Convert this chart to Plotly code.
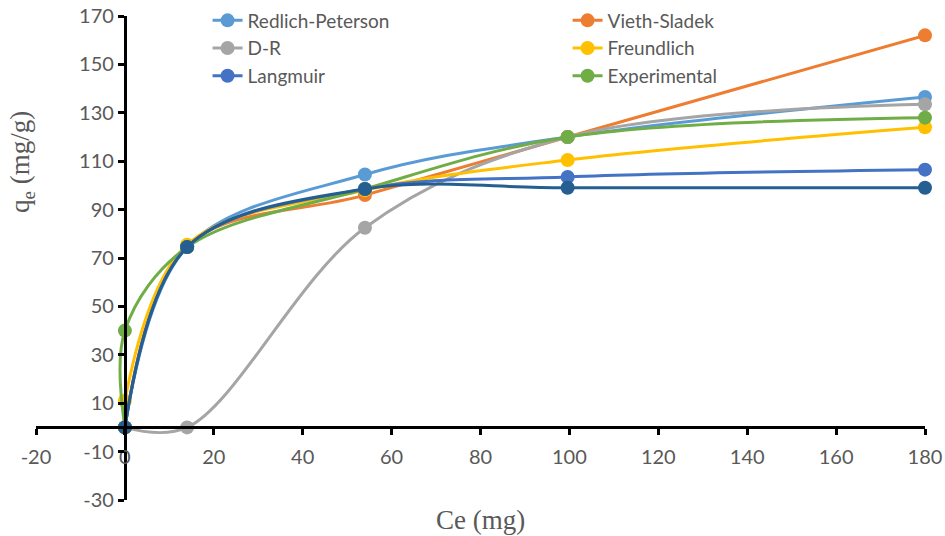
import plotly.graph_objects as go

ce = [0, 14, 54, 99.6, 180]
ce_exp = [0, 0, 14, 54, 99.6, 180]

redlich_peterson = [0, 74.5, 104.5, 120, 136.5]
vieth_sladek = [0, 75, 96, 120, 162]
dr = [0, 0, 82.5, 120, 133.5]
freundlich = [0, 11, 75.5, 98, 110.5, 124]
langmuir = [0, 74.5, 98.5, 103.5, 106.5]
experimental = [0, 40, 74.5, 98.5, 120, 128]
temkin = [0, 74.5, 98.5, 99, 99]

x_ticks = list(range(-20, 181, 20))
y_ticks = list(range(-30, 171, 20))

series = [
    ("Redlich-Peterson", ce, redlich_peterson, "#5B9BD5", True),
    ("Vieth-Sladek", ce, vieth_sladek, "#ED7D31", True),
    ("D-R", ce, dr, "#A5A5A5", True),
    ("Freundlich", ce_exp, freundlich, "#FFC000", True),
    ("Langmuir", ce, langmuir, "#4472C4", True),
    ("Experimental", ce_exp, experimental, "#70AD47", True),
    ("Series 7", ce, temkin, "#255E91", False),
]

fig = go.Figure()
for name, xs, ys, col, show in series:
    fig.add_trace(go.Scatter(
        x=xs, y=ys, name=name, mode="lines+markers",
        line=dict(color=col, width=3, shape="spline", smoothing=1.0),
        marker=dict(color=col, size=14),
        showlegend=show, cliponaxis=False,
    ))

font_tick = dict(family="Lato, Liberation Sans, sans-serif", size=20, color="#595959")
fig.update_layout(
    width=945, height=536,
    margin=dict(l=36, r=20, t=16, b=36, autoexpand=False),
    paper_bgcolor="white", plot_bgcolor="white",
    showlegend=True,
    legend=dict(
        orientation="h", x=0.193, xanchor="left", y=1.03, yanchor="top",
        font=dict(family="Lato, Liberation Sans, sans-serif", size=19, color="#595959"),
        entrywidth=315, entrywidthmode="pixels", bgcolor="rgba(0,0,0,0)",
        tracegroupgap=0, itemwidth=30,
    ),
    xaxis=dict(
        range=[-20, 180], tickvals=x_ticks, ticktext=[str(v) for v in x_ticks],
        anchor="free", position=0.15,
        showline=True, linecolor="black", linewidth=3,
        ticks="outside", ticklen=6, tickwidth=2.5, tickcolor="black",
        showgrid=False, zeroline=False, tickfont=font_tick, ticklabelstandoff=5,
    ),
    yaxis=dict(
        range=[-30, 170], tickvals=y_ticks, ticktext=[str(v) for v in y_ticks],
        anchor="free", position=0.1,
        showline=True, linecolor="black", linewidth=3,
        ticks="outside", ticklen=6, tickwidth=2.5, tickcolor="black",
        showgrid=False, zeroline=False, tickfont=font_tick,
    ),
    annotations=[
        dict(text="Ce (mg)", xref="paper", yref="paper",
             x=(480 - 36) / 889, y=(500 - 520) / 484, xanchor="center", yanchor="middle",
             showarrow=False,
             font=dict(family="Liberation Serif, Times New Roman, serif", size=27, color="#595959")),
        dict(text="q<sub>e</sub> (mg/g)", xref="paper", yref="paper",
             x=(22 - 36) / 889, y=(500 - 162) / 484, xanchor="center", yanchor="middle",
             textangle=-90, showarrow=False,
             font=dict(family="Liberation Serif, Times New Roman, serif", size=27, color="#595959")),
    ],
)

fig.write_html("out.html")
